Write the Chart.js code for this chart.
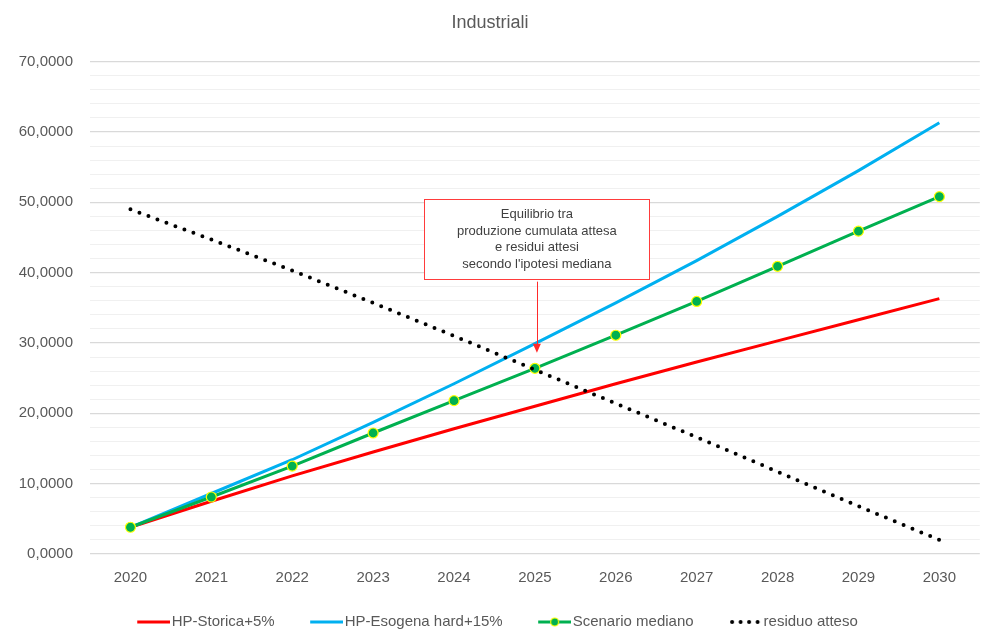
<!DOCTYPE html>
<html>
<head>
<meta charset="utf-8">
<title>Industriali</title>
<script src="https://cdn.jsdelivr.net/npm/chart.js@4.4.0/dist/chart.umd.min.js"></script>
<style>
  html, body { margin: 0; padding: 0; background: #fff; }
  #wrap { width: 986px; height: 637px; }
</style>
</head>
<body>
<div id="wrap"><canvas id="chart" width="986" height="637"></canvas></div>
<script>
// --- data ---
const years = ['2020', '2021', '2022', '2023', '2024', '2025', '2026', '2027', '2028', '2029', '2030'];
const hpStorica = [3.8, 7.5, 11.1, 14.5, 17.8, 21.0, 24.2, 27.3, 30.3, 33.3, 36.3];
const hpEsogena = [3.8, 8.6, 13.4, 18.7, 24.2, 29.9, 35.7, 41.7, 48.0, 54.5, 61.3];
const scenarioMediano = [3.8, 8.1, 12.5, 17.2, 21.8, 26.4, 31.1, 35.9, 40.9, 45.9, 50.8];
const residuoAtteso = [49.0, 44.7, 40.3, 35.7, 31.0, 26.2, 21.4, 16.6, 11.7, 6.8, 2.0];

const seriesNames = ['HP-Storica+5%', 'HP-Esogena hard+15%', 'Scenario mediano', 'residuo atteso'];

// annotation: where it points (category index, value) and box extent in values
const noteLines = ['Equilibrio tra', 'produzione cumulata attesa', 'e residui attesi', "secondo l'ipotesi mediana"];
const noteIndex = 5;
const noteBoxTop = 50.4;
const noteBoxBottom = 39.0;
const noteArrowTip = 28.6;

const FONT = "'Liberation Sans', Arial, sans-serif";
const GREY = '#595959';

Chart.defaults.font.family = FONT;
Chart.defaults.color = GREY;

// legend box is 42 wide; the swatch sits at the right end of the image,
// so it ends just before the label text
const BOX_W = 42;
function swatch(kind, color) {
    const c = document.createElement('canvas');
    c.width = BOX_W + 12;
    c.height = 12;
    const g = c.getContext('2d');
    const x0 = c.width - 33;
    if (kind === 'dots') {
        g.fillStyle = color;
        for (let i = 0; i < 4; i++) {
            g.beginPath();
            g.arc(x0 + 3 + i * 8.5, 6, 2, 0, Math.PI * 2);
            g.fill();
        }
        return c;
    }
    g.strokeStyle = color;
    g.lineWidth = 3;
    g.beginPath();
    g.moveTo(x0, 6);
    g.lineTo(x0 + 33, 6);
    g.stroke();
    if (kind === 'marker') {
        g.fillStyle = color;
        g.strokeStyle = '#FFFF00';
        g.lineWidth = 1.2;
        g.beginPath();
        g.arc(x0 + 16.5, 6, 4, 0, Math.PI * 2);
        g.fill();
        g.stroke();
    }
    return c;
}

const swatches = [
    swatch('line', '#FF0000'),
    swatch('line', '#00B0F0'),
    swatch('marker', '#00B050'),
    swatch('dots', '#000000')
];

const fmt = v => v.toFixed(4).replace('.', ',');

// draws the red note box and its arrow
const notePlugin = {
    id: 'note',
    afterDatasetsDraw(chart) {
        const {ctx, scales} = chart;
        const cx = scales.x.getPixelForValue(noteIndex) + 2;
        const top = scales.y.getPixelForValue(noteBoxTop);
        const bottom = scales.y.getPixelForValue(noteBoxBottom);
        const tip = scales.y.getPixelForValue(noteArrowTip);
        const w = 225;
        ctx.save();
        ctx.fillStyle = '#ffffff';
        ctx.fillRect(cx - w / 2, top, w, bottom - top);
        ctx.strokeStyle = '#FF3B3B';
        ctx.lineWidth = 1;
        ctx.strokeRect(Math.round(cx - w / 2) + 0.5, Math.round(top) + 0.5, w, Math.round(bottom - top));

        ctx.fillStyle = '#404040';
        ctx.font = '13px ' + FONT;
        ctx.textAlign = 'center';
        ctx.textBaseline = 'middle';
        const lh = 16.5;
        const mid = (top + bottom) / 2;
        noteLines.forEach((t, i) => {
            ctx.fillText(t, cx, mid + (i - (noteLines.length - 1) / 2) * lh);
        });

        // arrow
        ctx.strokeStyle = '#FF2A2A';
        ctx.fillStyle = '#FF2A2A';
        ctx.beginPath();
        ctx.moveTo(Math.round(cx) + 0.5, bottom + 2);
        ctx.lineTo(Math.round(cx) + 0.5, tip - 6);
        ctx.stroke();
        ctx.beginPath();
        ctx.moveTo(cx - 4, tip - 9);
        ctx.lineTo(cx + 4, tip - 9);
        ctx.lineTo(cx, tip);
        ctx.closePath();
        ctx.fill();
        ctx.restore();
    }
};

const bgPlugin = {
    id: 'bg',
    beforeDraw(chart) {
        const ctx = chart.ctx;
        ctx.save();
        ctx.fillStyle = '#ffffff';
        ctx.fillRect(0, 0, chart.width, chart.height);
        ctx.restore();
    }
};

new Chart(document.getElementById('chart'), {
    type: 'line',
    data: {
        labels: years,
        datasets: [
            {
                label: seriesNames[0],
                data: hpStorica,
                borderColor: '#FF0000',
                backgroundColor: '#FF0000',
                borderWidth: 3,
                pointRadius: 0,
                order: 4
            },
            {
                label: seriesNames[1],
                data: hpEsogena,
                borderColor: '#00B0F0',
                backgroundColor: '#00B0F0',
                borderWidth: 3,
                pointRadius: 0,
                order: 3
            },
            {
                label: seriesNames[2],
                data: scenarioMediano,
                borderColor: '#00B050',
                backgroundColor: '#00B050',
                borderWidth: 3,
                pointRadius: 5,
                pointBackgroundColor: '#00B050',
                pointBorderColor: '#FFFF00',
                pointBorderWidth: 1.2,
                order: 2
            },
            {
                label: seriesNames[3],
                data: residuoAtteso,
                borderColor: '#000000',
                backgroundColor: '#000000',
                borderWidth: 4,
                borderDash: [0, 9.6],
                borderCapStyle: 'round',
                pointRadius: 0,
                order: 1
            }
        ]
    },
    options: {
        responsive: false,
        animation: false,
        layout: { padding: { left: 0, right: 6, top: 0, bottom: -2.5 } },
        plugins: {
            title: {
                display: true,
                text: 'Industriali',
                color: GREY,
                font: { size: 18, weight: 'normal' },
                padding: { top: 12, bottom: 28 }
            },
            legend: {
                position: 'bottom',
                labels: {
                    color: GREY,
                    font: { size: 15 },
                    usePointStyle: true,
                    pointStyleWidth: BOX_W,
                    boxHeight: 12,
                    padding: 20.5,
                    generateLabels: chart => chart.data.datasets.map((ds, i) => ({
                        text: ds.label,
                        datasetIndex: i,
                        pointStyle: swatches[i],
                        fillStyle: ds.borderColor,
                        strokeStyle: ds.borderColor,
                        fontColor: GREY,
                        lineWidth: 0,
                        hidden: false
                    }))
                }
            },
            tooltip: { enabled: false }
        },
        scales: {
            x: {
                offset: true,
                grid: { display: false },
                border: { display: false },
                ticks: { color: GREY, font: { size: 15 }, padding: 7, maxRotation: 0 }
            },
            y: {
                min: 0,
                max: 70,
                afterFit: scale => { scale.width = 90; },
                border: { display: false },
                grid: {
                    drawTicks: false,
                    color: ctx => (ctx.tick && ctx.tick.value % 10 === 0) ? '#D9D9D9' : '#F0F0F0',
                    lineWidth: ctx => (ctx.tick && ctx.tick.value % 10 === 0) ? 1.3 : 1
                },
                ticks: {
                    stepSize: 2,
                    autoSkip: false,
                    color: GREY,
                    font: { size: 15 },
                    padding: 17,
                    callback: v => (v % 10 === 0 ? fmt(v) : '')
                }
            }
        }
    },
    plugins: [bgPlugin, notePlugin]
});
</script>
</body>
</html>
